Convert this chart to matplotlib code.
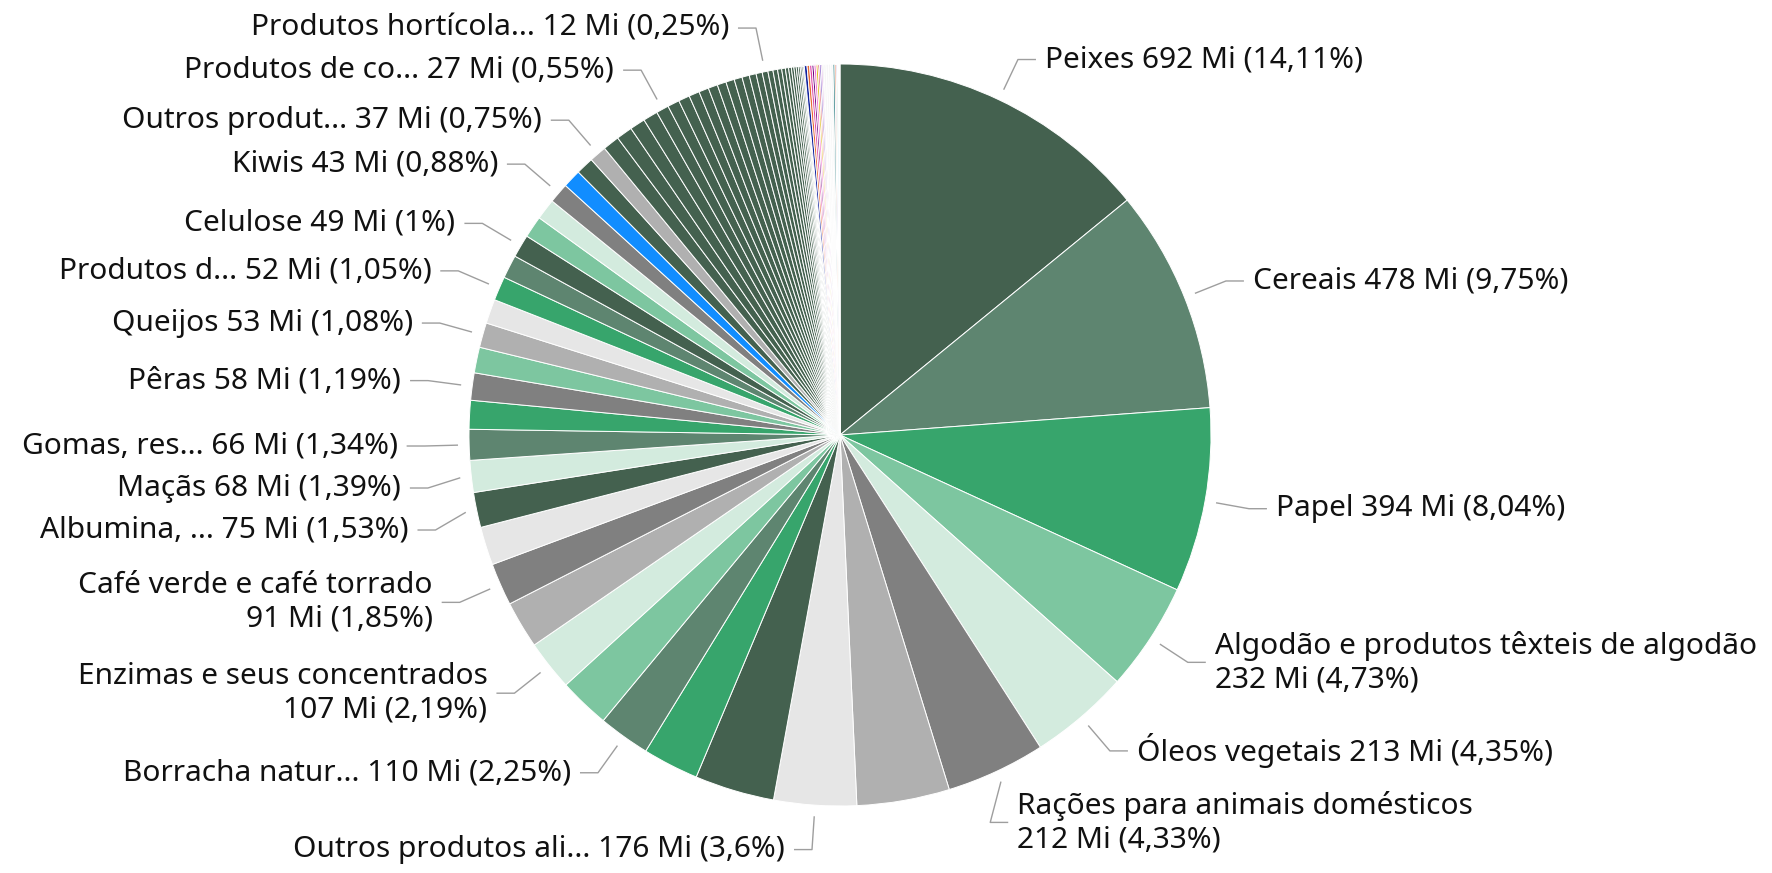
import numpy as np
import matplotlib
matplotlib.use("Agg")
import matplotlib.pyplot as plt

# ---------------- data ----------------
nomes = [
    "Peixes", "Cereais", "Papel", "Algodão e produtos têxteis de algodão",
    "Óleos vegetais", "Rações para animais domésticos", "", "Outros produtos ali...",
    "", "", "Borracha natur...", "", "Enzimas e seus concentrados", "",
    "Café verde e café torrado", "", "Albumina, ...", "Maçãs", "Gomas, res...", "",
    "Pêras", "", "Queijos", "", "Produtos d...", "", "Celulose", "", "",
    "Kiwis", "", "", "Outros produt...",
    "", "", "", "", "Produtos de co...",
    "", "", "", "", "", "", "", "", "", "", "",
    "Produtos hortícola...",
    "", "", "", "", "", "", "", "", "", "", "", "", "",
    "", "", "", "", "", "", "", "", "", "",
    "", "", "", "",
    "", "", "", "", "", "",
]
valor_mi = [
    692, 478, 394, 232, 213, 212, 198, 176,
    170, 120, 110, 109, 107, 101,
    91, 82, 75, 68, 66, 61,
    58, 55, 53, 52, 52, 50, 49, 47, 45,
    43, 39, 38, 37,
    35, 34, 33, 31, 27,
    25, 24, 23, 21, 20, 19, 18, 17, 16, 15, 13,
    12,
    11, 10, 9, 8, 7, 6, 5.4, 4.9, 4.4, 3.9, 3.4, 2.9, 2.5,
    5.9, 5.4, 4.9, 4.4, 4.4, 3.9, 3.4, 3.4, 2.9, 2.5,
    4.9, 4.9, 4.9, 4.9,
    3.9, 2.9, 2.5, 2.0, 2.0, 1.5,
]
percentual = [
    14.11, 9.75, 8.04, 4.73, 4.35, 4.33, 4.04, 3.6,
    3.47, 2.44, 2.25, 2.22, 2.19, 2.06,
    1.85, 1.67, 1.53, 1.39, 1.34, 1.25,
    1.19, 1.12, 1.08, 1.06, 1.05, 1.02, 1.00, 0.95, 0.91,
    0.88, 0.80, 0.77, 0.75,
    0.72, 0.70, 0.67, 0.64, 0.55,
    0.52, 0.49, 0.46, 0.43, 0.41, 0.39, 0.37, 0.35, 0.32, 0.30, 0.27,
    0.25,
    0.22, 0.20, 0.18, 0.16, 0.14, 0.12, 0.11, 0.10, 0.09, 0.08, 0.07, 0.06, 0.05,
    0.12, 0.11, 0.10, 0.09, 0.09, 0.08, 0.07, 0.07, 0.06, 0.05,
    0.10, 0.10, 0.10, 0.10,
    0.08, 0.06, 0.05, 0.04, 0.04, 0.03,
]
G1, G2, G3, G4, G5 = "#44614F", "#5E8570", "#37A56C", "#7DC6A0", "#D3EBDE"
C1, C2, C3 = "#808080", "#B0B0B0", "#E6E6E6"
cores = (
    [G1, G2, G3, G4, G5, C1, C2, C3,
     G1, G3, G2, G4, G5, C2,
     C1, C3, G1, G5, G2, G3,
     C1, G4, C2, C3, G3, G2, G1, G4, G5,
     C1, "#118DFF", G1, C2]
    + [G1] * 5
    + [G1] * 11
    + [G1]
    + [G1] * 13
    + ["#12239E", "#E66C37", "#E044A7", "#6B007B", "#F472D0",
       "#D9B300", "#D64550", "#744EC2", "#BE5DC9", "#A0A0A0"]
    + ["#F7F7F7"] * 4
    + ["#197278", "#E66C37", "#744EC2", "#1AAB40", "#15C6F4", "#B5A1FF"]
)

# ---------------- figure ----------------
W, H = 1772, 873
fig = plt.figure(figsize=(W / 100, H / 100), dpi=100)
ax = fig.add_axes([0, 0, 1, 1])
cx, cy, R = 840, 438, 371

wedges, _ = ax.pie(percentual, colors=cores, startangle=90, counterclock=False,
                   center=(cx, cy), radius=R,
                   wedgeprops=dict(edgecolor="white", linewidth=0.7))
ax.set_xlim(0, W)
ax.set_ylim(0, H)
ax.set_aspect("equal")
ax.axis("off")

FONT = ["Noto Sans", "Open Sans", "DejaVu Sans"]
FS = 21.5
LH = 37          # line height in px
PAD = 5
PAD2 = 16        # extra room next to two-line labels
RE = 1.12 * R    # elbow radius
RS = 1.03 * R    # leader start radius
HSEG = 18
GAP = 9


def fmt_pct(p):
    s = f"{p:.2f}".rstrip("0").rstrip(".")
    return s.replace(".", ",")


labels = []
for i, (w, nome) in enumerate(zip(wedges, nomes)):
    if not nome:
        continue
    mid = np.radians((w.theta1 + w.theta2) / 2)
    val = f"{valor_mi[i]:.0f} Mi ({fmt_pct(percentual[i])}%)"
    two = (not nome.endswith("...")) and len(nome) > 16
    txt = f"{nome}\n{val}" if two else f"{nome} {val}"
    labels.append(dict(ang=mid, txt=txt, n=2 if two else 1,
                       side=1 if np.cos(mid) > 0 else -1,
                       y=cy + RE * np.sin(mid)))

# resolve vertical overlaps per side
for side in (1, -1):
    grp = [l for l in labels if l["side"] == side]
    lower = sorted([l for l in grp if l["y"] < cy], key=lambda l: -l["y"])
    upper = sorted([l for l in grp if l["y"] >= cy], key=lambda l: l["y"])
    for seq, d in ((lower, -1), (upper, 1)):
        for a, b in zip(seq[:-1], seq[1:]):
            pad = PAD2 if max(a["n"], b["n"]) > 1 else PAD
            sep = (a["n"] + b["n"]) * LH / 2 + pad
            if d < 0:
                b["y"] = min(b["y"], a["y"] - sep)
            else:
                b["y"] = max(b["y"], a["y"] + sep)

for l in labels:
    ang, side, ey = l["ang"], l["side"], l["y"]
    sx, sy = cx + RS * np.cos(ang), cy + RS * np.sin(ang)
    dy = ey - cy
    ex = cx + side * np.sqrt(max(RE ** 2 - dy ** 2, 0.0))
    hx = ex + side * HSEG
    ax.plot([sx, ex, hx], [sy, ey, ey], color="#9E9E9E", lw=1.0,
            solid_capstyle="butt", zorder=3)
    ax.text(hx + side * GAP, ey, l["txt"], ha="left" if side > 0 else "right",
            va="center", fontsize=FS, family=FONT, fontweight="medium",
            color="#111111", linespacing=1.2)

fig.savefig("out.png", dpi=100, facecolor="white")
